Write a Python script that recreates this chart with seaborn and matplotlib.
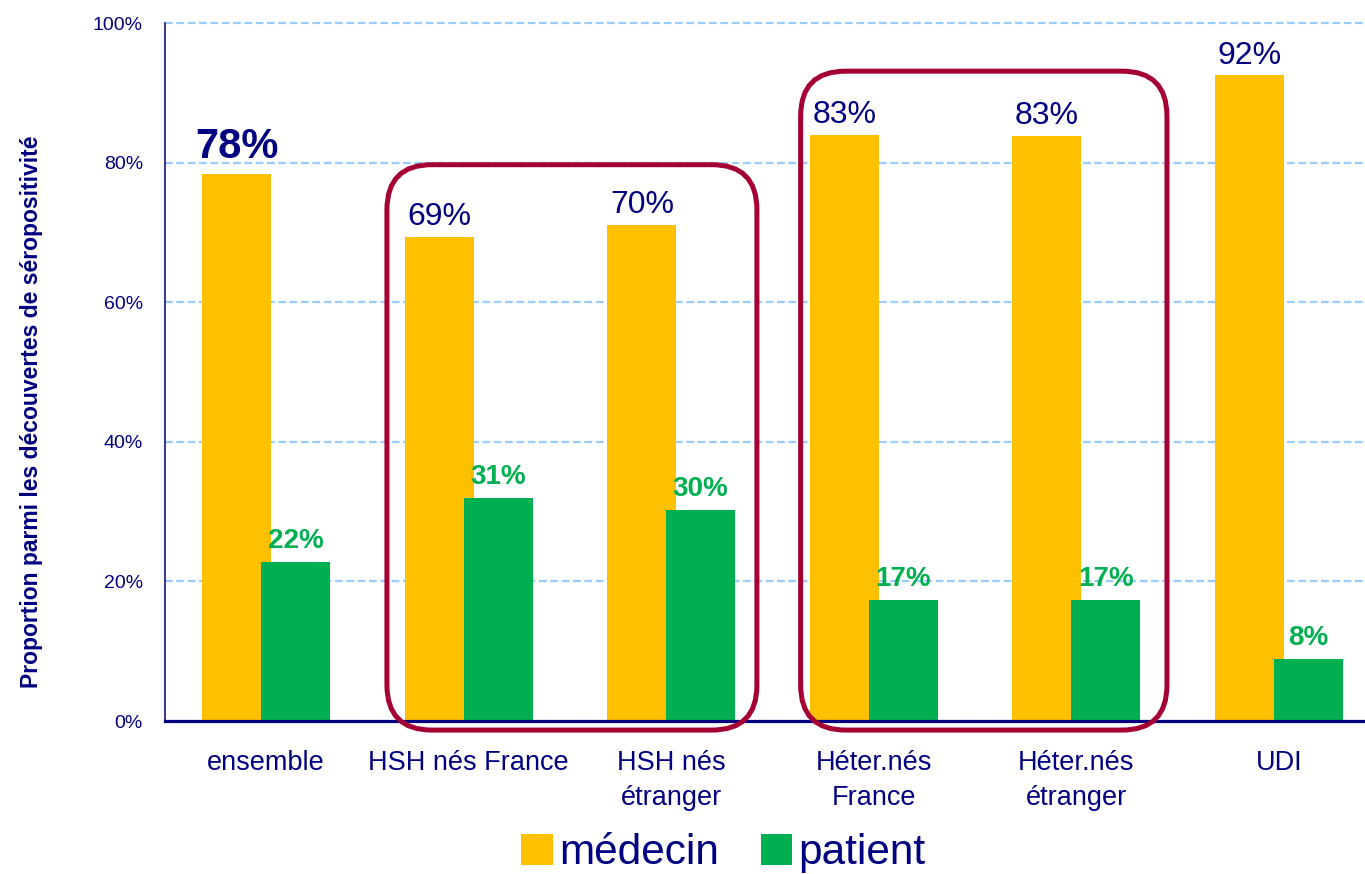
import pandas as pd
import matplotlib
matplotlib.use("Agg")
import matplotlib.pyplot as plt
import seaborn as sns
from matplotlib.patches import FancyBboxPatch, Patch
from matplotlib.transforms import IdentityTransform
from matplotlib.ticker import FuncFormatter, FixedLocator

# Data
categories = ["ensemble", "HSH nés France", "HSH nés\nétranger",
              "Héter.nés\nFrance", "Héter.nés\nétranger", "UDI"]
medecin = [78.4, 69.3, 71.1, 84.0, 83.8, 92.5]
patient = [22.8, 32.0, 30.2, 17.3, 17.4, 8.9]
medecin_labels = ["78%", "69%", "70%", "83%", "83%", "92%"]
patient_labels = ["22%", "31%", "30%", "17%", "17%", "8%"]
series = ["médecin", "patient"]
y_ticks = [0, 20, 40, 60, 80, 100]

# grouped boxes: (left, right in category units, top in %)
box_groups = [(0.596, 2.423, 79.7), (2.639, 4.448, 93.1)]

NAVY = "#000080"
ORANGE = "#FFC000"
GREEN = "#00B050"
MAROON = "#A50034"
GRID = "#99CCFF"
FONT = ["Liberation Sans", "DejaVu Sans"]

sns.set_theme(style="white")
plt.rcParams["font.family"] = FONT

df = pd.DataFrame({
    "groupe": categories * 2,
    "valeur": medecin + patient,
    "source": [series[0]] * len(categories) + [series[1]] * len(categories),
})

fig = plt.figure(figsize=(13.65, 8.74), dpi=100)
ax = fig.add_axes([165 / 1365, 153 / 874, 1215 / 1365, 698 / 874])

sns.barplot(data=df, x="groupe", y="valeur", hue="source", order=categories,
            hue_order=series, palette=[ORANGE, GREEN], width=0.58,
            saturation=1, dodge=True, legend=False, ax=ax)

# widen the bars so they slightly overlap, like the original
bar_w = 0.34
for container in ax.containers:
    for p in container:
        cx = p.get_x() + p.get_width() / 2
        p.set_width(bar_w)
        p.set_x(cx - bar_w / 2)
        p.set_linewidth(0)

ax.set_xlim(-0.5, len(categories) - 0.5)
ax.set_ylim(0, 100)

# value labels
for p, lab in zip(ax.containers[0], medecin_labels):
    big = lab == medecin_labels[0]
    ax.annotate(lab, (p.get_x() + p.get_width() / 2, p.get_height()),
                xytext=(0, 11.5 if big else 8.5), textcoords="offset points",
                ha="center", va="baseline", color=NAVY,
                fontsize=30 if big else 23, fontweight="bold" if big else "normal")
for p, lab in zip(ax.containers[1], patient_labels):
    ax.annotate(lab, (p.get_x() + p.get_width() / 2, p.get_height()),
                xytext=(0, 10), textcoords="offset points",
                ha="center", va="baseline", color=GREEN,
                fontsize=20, fontweight="bold")

# axes styling
ax.set_yticks(y_ticks)
ax.yaxis.set_major_formatter(FuncFormatter(lambda v, _: f"{v:.0f}%"))
ax.tick_params(axis="y", length=0, pad=16, labelsize=14, labelcolor=NAVY)
ax.set_xticks(range(len(categories)))
ax.set_xticklabels(categories)
ax.xaxis.set_minor_locator(FixedLocator([i - 0.5 for i in range(len(categories) + 1)]))
ax.tick_params(axis="x", which="major", length=0, pad=21, labelsize=19.5, labelcolor=NAVY)
ax.tick_params(axis="x", which="minor", length=6, width=1.2, color=NAVY, direction="out")
for lbl in ax.get_xticklabels():
    lbl.set_linespacing(1.45)
ax.set_xlabel("")
ax.set_ylabel("Proportion parmi les découvertes de séropositivité",
              fontsize=16.5, fontweight="bold", color=NAVY)
ax.yaxis.set_label_coords(-0.1, 0.443)

for side in ["top", "right"]:
    ax.spines[side].set_visible(False)
ax.spines["left"].set_color(NAVY)
ax.spines["left"].set_linewidth(1.1)
ax.spines["bottom"].set_color(NAVY)
ax.spines["bottom"].set_linewidth(2.3)
ax.spines["bottom"].set_zorder(5)

ax.yaxis.grid(True, color=GRID, linewidth=1.6, linestyle=(0, (3.5, 1.6)))
ax.xaxis.grid(False)
ax.set_axisbelow(True)
for line in ax.get_ygridlines():
    line.set_clip_on(False)

# rounded group boxes
for left, right, top in box_groups:
    x0, y0 = ax.transData.transform((left, -1.3))
    x1, y1 = ax.transData.transform((right, top))
    box = FancyBboxPatch((x0, y0), x1 - x0, y1 - y0,
                         boxstyle="round,pad=0,rounding_size=45",
                         transform=IdentityTransform(), fill=False,
                         edgecolor=MAROON, linewidth=3.6, zorder=10)
    fig.add_artist(box)

handles = [Patch(facecolor=ORANGE, edgecolor="none"),
           Patch(facecolor=GREEN, edgecolor="none")]
leg = fig.legend(handles, series, loc="center", bbox_to_anchor=(0.53, 0.024),
                 ncol=2, frameon=False, handlelength=0.74,
                 handleheight=0.76, handletextpad=0.14, columnspacing=1.0,
                 borderpad=0, prop={"size": 30.5})
for t in leg.get_texts():
    t.set_color(NAVY)

fig.savefig("out.png", dpi=100)
